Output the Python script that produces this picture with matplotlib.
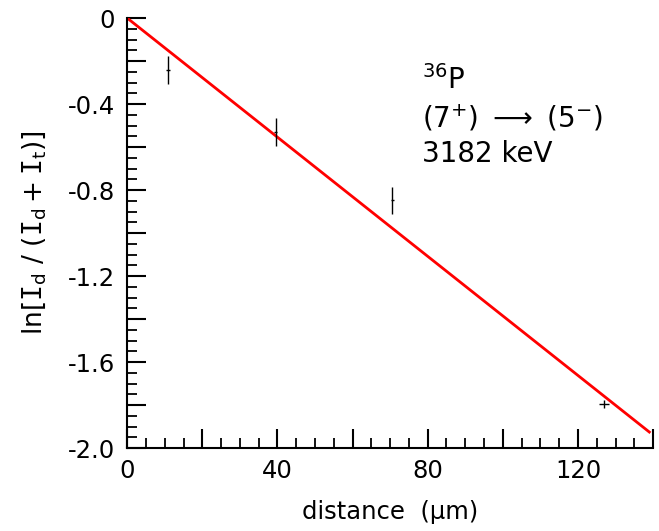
import numpy as np
import matplotlib
matplotlib.use("Agg")
import matplotlib.pyplot as plt
from matplotlib.ticker import MultipleLocator

# measured points
dist = [10.8, 39.5, 70.6, 127.0]
dist_err = [0.5, 0.5, 0.5, 1.3]
lnratio = [-0.24, -0.53, -0.847, -1.795]
lnratio_err = [0.065, 0.065, 0.062, 0.02]

# fitted line
fit_x = [0.0, 139.0]
fit_y = [0.0, -1.925]

plt.rcParams['font.family'] = 'DejaVu Sans'
plt.rcParams['mathtext.default'] = 'regular'

fig = plt.figure(figsize=(6.59, 5.31), dpi=100)
ax = fig.add_axes([0.193, 0.156, 0.798, 0.81])

ax.plot(fit_x, fit_y, color='#ff0000', lw=2.0, zorder=2)
ax.errorbar(dist, lnratio, xerr=dist_err, yerr=lnratio_err, fmt='none',
            ecolor='black', elinewidth=1.0, capsize=0, zorder=3)

ax.set_xlim(0, 140)
ax.set_ylim(-2.0, 0)

ax.xaxis.set_major_locator(MultipleLocator(20))
ax.xaxis.set_minor_locator(MultipleLocator(5))
ax.yaxis.set_major_locator(MultipleLocator(0.2))
ax.yaxis.set_minor_locator(MultipleLocator(0.05))
ax.xaxis.set_major_formatter(lambda v, p: '%d' % v if abs(v % 40) < 1e-6 and v < 139 else '')
ax.yaxis.set_major_formatter(lambda v, p: ('0' if abs(v) < 1e-6 else '%.1f' % v)
                             if abs(round(v / 0.4) * 0.4 - v) < 1e-6 else '')

ax.spines['top'].set_visible(False)
ax.spines['right'].set_visible(False)
for s in ['left', 'bottom']:
    ax.spines[s].set_linewidth(1.5)

ax.tick_params(which='major', direction='in', length=14, width=1.5, labelsize=17.5, pad=8)
ax.tick_params(which='minor', direction='in', length=7, width=1.3)
ax.tick_params(axis='y', which='major', pad=9)

ax.set_xlabel('distance  (µm)', fontsize=17.5, labelpad=12)
ax.set_ylabel('$\\mathregular{ln[\\mathtt{I}_d\\ /\\ (\\mathtt{I}_d+\\mathtt{I}_t)]}$',
              fontsize=19, labelpad=14)

ax.text(78.5, -0.33, '$^{36}$P', fontsize=20, ha='left', va='baseline')
ax.text(78.5, -0.51, '(7$^{+}$) $\\longrightarrow$ (5$^{-}$)', fontsize=20, ha='left', va='baseline')
ax.text(78.5, -0.67, '3182 keV', fontsize=20, ha='left', va='baseline')

plt.savefig('out.png', dpi=100)
